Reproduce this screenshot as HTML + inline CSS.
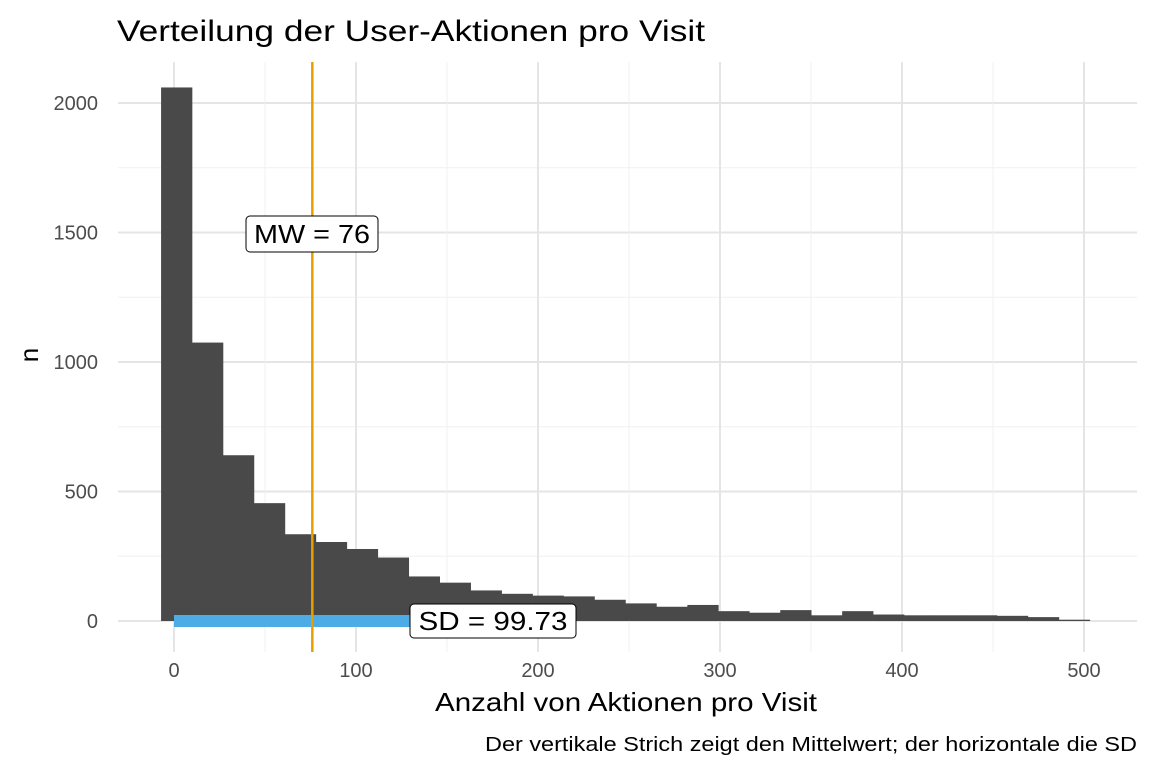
<!DOCTYPE html>
<html><head><meta charset="utf-8"><style>
body{margin:0;background:#fff;font-family:"Liberation Sans",Arial,sans-serif}
svg text{font-family:"Liberation Sans",Arial,sans-serif}
</style></head><body>
<svg id="chart" width="1152" height="768" xmlns="http://www.w3.org/2000/svg">
<text x="117" y="41" font-size="30" textLength="588" lengthAdjust="spacingAndGlyphs" fill="#000">Verteilung der User-Aktionen pro Visit</text>
<g id="grid"></g>
<g id="bars"></g>
<g id="ann"></g>
<g id="axes"></g>
<text x="626" y="711" font-size="26" textLength="382" lengthAdjust="spacingAndGlyphs" text-anchor="middle">Anzahl von Aktionen pro Visit</text>
<text x="0" y="0" font-size="26" text-anchor="middle" transform="translate(38,355) rotate(-90)">n</text>
<text x="1137" y="751" font-size="20" textLength="652" lengthAdjust="spacingAndGlyphs" text-anchor="end">Der vertikale Strich zeigt den Mittelwert; der horizontale die SD</text>
</svg>
<script>
const counts=[2060,1075,640,455,335,305,278,245,172,148,118,105,98,95,82,68,55,62,38,32,42,22,38,25,22,22,22,20,15,5];
const binStart=-7.1;
const binWidth=17.01;
const xTicks=[0,100,200,300,400,500];
const yTicks=[0,500,1000,1500,2000];
const meanVal=76;
const sdVal=99.73;
const NS="http://www.w3.org/2000/svg";
const X=v=>174+v*1.82;
const Y=v=>621-v*0.259;
function mk(p,t,a){const e=document.createElementNS(NS,t);for(const k in a)e.setAttribute(k,a[k]);p.appendChild(e);return e;}
const grid=document.getElementById('grid'),bars=document.getElementById('bars'),ann=document.getElementById('ann'),axes=document.getElementById('axes');
const L=118,R=1137,T=62,B=652;
for(let i=0;i<yTicks.length;i++){
  const v=yTicks[i];
  const g=mk(grid,'line',{x1:L,x2:R,y1:Y(v),y2:Y(v),stroke:'#e5e5e5','stroke-width':2});
  
  
  if(i<yTicks.length-1){const m=mk(grid,'line',{x1:L,x2:R,y1:Y(v+250),y2:Y(v+250),stroke:'#f0f0f0','stroke-width':1});
  
  }
  const t=mk(axes,'text',{x:98,y:Y(v)+7,'font-size':20,fill:'#4d4d4d','text-anchor':'end'});t.textContent=v;
  
  
}
for(let i=0;i<xTicks.length;i++){
  const v=xTicks[i];
  const g=mk(grid,'line',{x1:X(v),x2:X(v),y1:T,y2:B,stroke:'#e5e5e5','stroke-width':2});
  
  
  const m=mk(grid,'line',{x1:X(v+50),x2:X(v+50),y1:T,y2:B,stroke:'#f0f0f0','stroke-width':1});
  
  
  const t=mk(axes,'text',{x:X(v),y:677,'font-size':20,fill:'#4d4d4d','text-anchor':'middle'});t.textContent=v;
  
  
}
counts.forEach((c,i)=>{
  const x0=X(binStart+i*binWidth),x1=X(binStart+(i+1)*binWidth);
  const r=mk(bars,'rect',{x:x0,y:Y(c),width:x1-x0+0.3,height:Y(0)-Y(c),fill:'#494949'});
  
  
});
const sd=mk(ann,'rect',{x:X(0),y:Y(0)-6,width:X(meanVal+sdVal)-X(0),height:12,fill:'#4DABE6'});


const ml=mk(ann,'line',{x1:X(meanVal),x2:X(meanVal),y1:T,y2:B,stroke:'#E69F00','stroke-width':2.5});


const mb=mk(ann,'rect',{x:246,y:216,width:132,height:36,rx:4,fill:'#fff',stroke:'#000','stroke-width':1});


const mt=mk(ann,'text',{x:312,y:243,'font-size':26,'text-anchor':'middle',textLength:116,lengthAdjust:'spacingAndGlyphs'});mt.textContent='MW = '+meanVal;


const sb=mk(ann,'rect',{x:410,y:604,width:166,height:34,rx:4,fill:'#fff',stroke:'#000','stroke-width':1});


const st=mk(ann,'text',{x:493,y:630,'font-size':26,'text-anchor':'middle',textLength:149,lengthAdjust:'spacingAndGlyphs'});st.textContent='SD = '+sdVal;


</script>
</body></html>
